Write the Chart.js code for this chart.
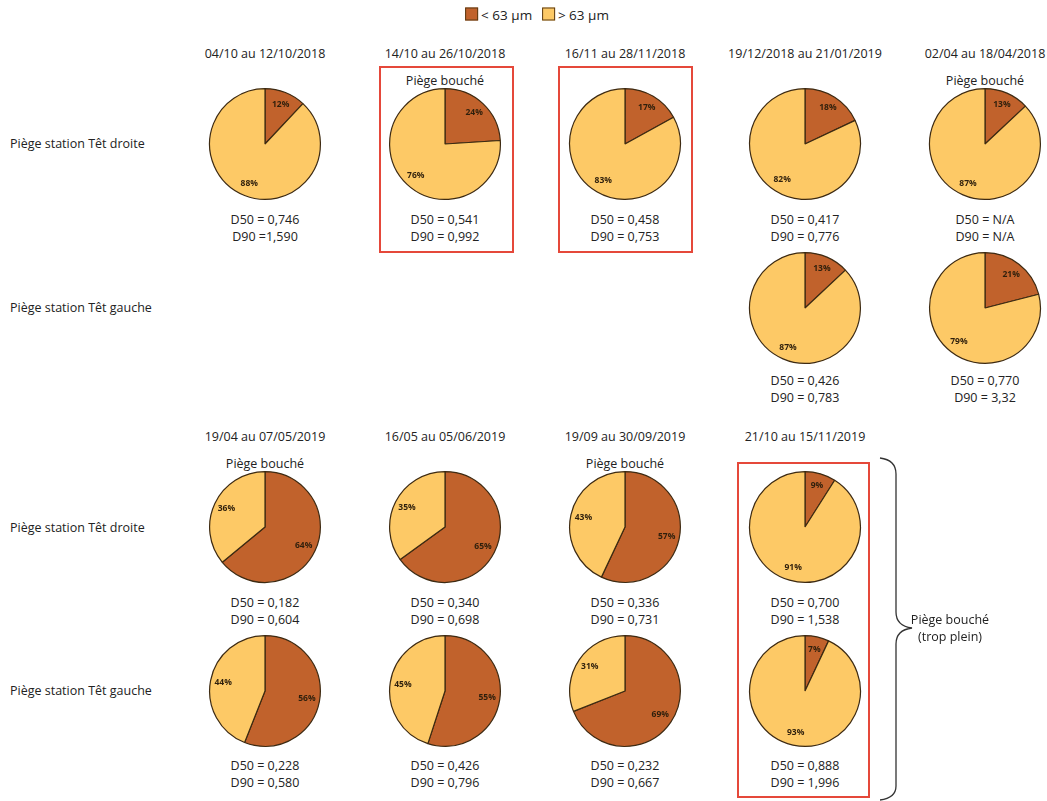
<!DOCTYPE html>
<html>
<head>
<meta charset="utf-8">
<script src="https://cdn.jsdelivr.net/npm/chart.js@4.4.0/dist/chart.umd.min.js"></script>
<style>
  body { margin: 0; background: #fff; font-family: "Open Sans", sans-serif; color: #222; }
  #stage { position: relative; width: 1047px; height: 801px; overflow: hidden; }
  .t { position: absolute; font-size: 12.5px; white-space: nowrap; transform: translate(-50%, -50%); text-align: center; line-height: 17px; }
  .lft { position: absolute; font-size: 12.5px; white-space: nowrap; transform: translateY(-50%); }
  .box { position: absolute; border: 2px solid #e5483a; box-sizing: border-box; }
  canvas.pie { position: absolute; }
  .sw { display: inline-block; width: 11px; height: 11px; border: 1px solid #5a3a14; vertical-align: -1px; margin-right: 3px; }
</style>
</head>
<body>
<div id="stage"></div>
<script>
// ─── Données ────────────────────────────────────────────────────────────────
const PERIODS_TOP = ["04/10 au 12/10/2018", "14/10 au 26/10/2018", "16/11 au 28/11/2018", "19/12/2018 au 21/01/2019", "02/04 au 18/04/2018"];
const PERIODS_BOTTOM = ["19/04 au 07/05/2019", "16/05 au 05/06/2019", "19/09 au 30/09/2019", "21/10 au 15/11/2019"];
const SERIES = ["< 63  µm", "> 63 µm"];

// % < 63 µm et % > 63 µm (null = pas de prélèvement)
const FINE_DROITE_TOP   = [12, 24, 17, 18, 13];
const COARSE_DROITE_TOP = [88, 76, 83, 82, 87];
const FINE_GAUCHE_TOP   = [null, null, null, 13, 21];
const COARSE_GAUCHE_TOP = [null, null, null, 87, 79];
const FINE_DROITE_BOT   = [64, 65, 57, 9];
const COARSE_DROITE_BOT = [36, 35, 43, 91];
const FINE_GAUCHE_BOT   = [56, 55, 69, 7];
const COARSE_GAUCHE_BOT = [44, 45, 31, 93];

const D_DROITE_TOP = [["D50 = 0,746", "D90 =1,590"], ["D50 = 0,541", "D90 = 0,992"], ["D50 = 0,458", "D90 = 0,753"], ["D50 = 0,417", "D90 = 0,776"], ["D50 = N/A", "D90 = N/A"]];
const D_GAUCHE_TOP = [null, null, null, ["D50 = 0,426", "D90 = 0,783"], ["D50 = 0,770", "D90 = 3,32"]];
const D_DROITE_BOT = [["D50 = 0,182", "D90 = 0,604"], ["D50 = 0,340", "D90 = 0,698"], ["D50 = 0,336", "D90 = 0,731"], ["D50 = 0,700", "D90 = 1,538"]];
const D_GAUCHE_BOT = [["D50 = 0,228", "D90 = 0,580"], ["D50 = 0,426", "D90 = 0,796"], ["D50 = 0,232", "D90 = 0,667"], ["D50 = 0,888", "D90 = 1,996"]];

const BOUCHE_TOP = [false, true, false, false, true];
const BOUCHE_BOT = [true, false, true, false];

const COLORS = { fine: "#c1622c", coarse: "#fdc966", edge: "#3d2a12", label: "#2e1f0c" };

// ─── Mise en page ────────────────────────────────────────────────────────────
const COL_X = [265, 445, 625, 805, 985];
const R = 55;
const stage = document.getElementById("stage");

function addText(cls, x, y, html) {
  const d = document.createElement("div");
  d.className = cls;
  d.style.left = x + "px";
  d.style.top = y + "px";
  d.innerHTML = html;
  stage.appendChild(d);
  return d;
}

function addBox(x, y, w, h) {
  const d = document.createElement("div");
  d.className = "box";
  Object.assign(d.style, { left: x + "px", top: y + "px", width: w + "px", height: h + "px" });
  stage.appendChild(d);
}

// étiquettes de % dans les parts
const sliceLabels = {
  id: "sliceLabels",
  afterDatasetsDraw(chart) {
    const ctx = chart.ctx;
    const meta = chart.getDatasetMeta(0);
    ctx.save();
    ctx.font = "bold 8.5px 'Open Sans', sans-serif";
    ctx.fillStyle = COLORS.label;
    ctx.textAlign = "center";
    ctx.textBaseline = "middle";
    meta.data.forEach((arc, i) => {
      const mid = (arc.startAngle + arc.endAngle) / 2;
      const r = arc.outerRadius * 0.77;
      ctx.fillText(chart.data.datasets[0].data[i] + "%", arc.x + Math.cos(mid) * r, arc.y + Math.sin(mid) * r);
    });
    ctx.restore();
  },
};

function renderPie(cx, cy, fine, coarse) {
  const size = 2 * R + 4;
  const cv = document.createElement("canvas");
  cv.className = "pie";
  cv.width = size; cv.height = size;
  cv.style.left = (cx - size / 2) + "px";
  cv.style.top = (cy - size / 2) + "px";
  stage.appendChild(cv);
  return new Chart(cv.getContext("2d"), {
    type: "pie",
    data: {
      labels: SERIES,
      datasets: [{
        data: [fine, coarse],
        backgroundColor: [COLORS.fine, COLORS.coarse],
        borderColor: COLORS.edge,
        borderWidth: 1.2,
      }],
    },
    options: {
      responsive: false,
      animation: false,
      layout: { padding: 1 },
      plugins: { legend: { display: false }, tooltip: { enabled: false } },
    },
    plugins: [sliceLabels],
  });
}

function dText(x, y, d) {
  addText("t", x, y, d[0] + "<br>" + d[1]);
}

// légende
addText("t", 537, 15,
  '<span class="sw" style="background:' + COLORS.fine + '"></span><span style="font-size:13.5px">' + SERIES[0] + '</span>' +
  '&nbsp;&nbsp;&nbsp;<span class="sw" style="background:' + COLORS.coarse + '"></span><span style="font-size:13.5px">' + SERIES[1] + '</span>');

// cadres rouges
addBox(379, 66, 135, 187);
addBox(558, 66, 135, 187);
addBox(737, 462, 133, 336);

// ─── Bloc haut ───────────────────────────────────────────────────────────────
addText("lft", 10, 143, "Piège station Têt droite");
addText("lft", 10, 307, "Piège station Têt gauche");
PERIODS_TOP.forEach((p, i) => {
  const x = COL_X[i];
  addText("t", x, 53, p);
  if (BOUCHE_TOP[i]) addText("t", x, 80, "Piège bouché");
  renderPie(x, 144, FINE_DROITE_TOP[i], COARSE_DROITE_TOP[i]);
  dText(x, 228, D_DROITE_TOP[i]);
  if (FINE_GAUCHE_TOP[i] !== null) {
    renderPie(x, 308, FINE_GAUCHE_TOP[i], COARSE_GAUCHE_TOP[i]);
    dText(x, 389, D_GAUCHE_TOP[i]);
  }
});

// ─── Bloc bas ────────────────────────────────────────────────────────────────
addText("lft", 10, 527, "Piège station Têt droite");
addText("lft", 10, 690, "Piège station Têt gauche");
PERIODS_BOTTOM.forEach((p, i) => {
  const x = COL_X[i];
  addText("t", x, 436, p);
  if (BOUCHE_BOT[i]) addText("t", x, 463, "Piège bouché");
  renderPie(x, 527, FINE_DROITE_BOT[i], COARSE_DROITE_BOT[i]);
  dText(x, 611, D_DROITE_BOT[i]);
  renderPie(x, 691, FINE_GAUCHE_BOT[i], COARSE_GAUCHE_BOT[i]);
  dText(x, 774, D_GAUCHE_BOT[i]);
});

// accolade
const svgNS = "http://www.w3.org/2000/svg";
const svg = document.createElementNS(svgNS, "svg");
svg.setAttribute("width", 1047); svg.setAttribute("height", 801);
svg.style.position = "absolute"; svg.style.left = 0; svg.style.top = 0;
const path = document.createElementNS(svgNS, "path");
path.setAttribute("d", "M880,458 Q896,460 896,474 L896,612 Q896,626 912,628 Q896,630 896,644 L896,786 Q896,798 880,800");
path.setAttribute("fill", "none"); path.setAttribute("stroke", "#333"); path.setAttribute("stroke-width", "1.3");
svg.appendChild(path);
stage.appendChild(svg);
addText("t", 950, 628, "Piège bouché<br>(trop plein)");
</script>
</body>
</html>
